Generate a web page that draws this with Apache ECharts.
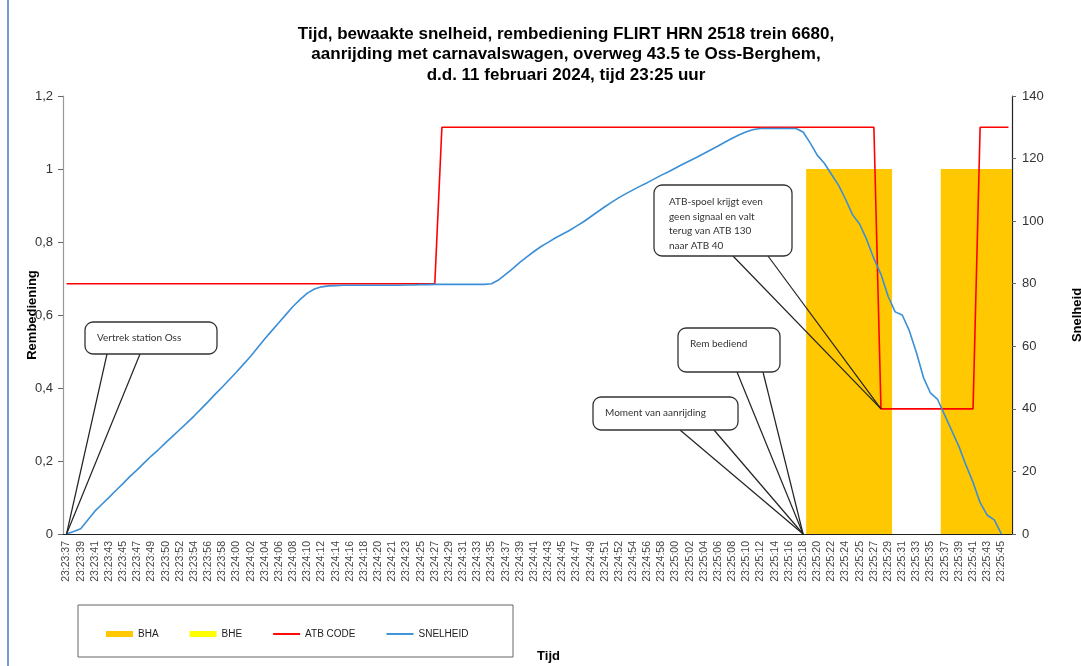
<!DOCTYPE html>
<html lang="nl">
<head>
<meta charset="UTF-8">
<title>Tijd, bewaakte snelheid, rembediening FLIRT HRN 2518</title>
<script src="https://cdn.jsdelivr.net/npm/echarts@6/dist/echarts.min.js"></script>
<style>
  html, body { margin: 0; padding: 0; background: #fff; }
  #chart { width: 1081px; height: 666px; }
</style>
</head>
<body>
<div id="chart"></div>
<script>
// labels op de tijd-as (alleen elke tweede meting heeft een label)
const tijdLabels = [
  '23:23:37','23:23:39','23:23:41','23:23:43','23:23:45','23:23:47','23:23:49','23:23:50','23:23:52','23:23:54',
  '23:23:56','23:23:58','23:24:00','23:24:02','23:24:04','23:24:06','23:24:08','23:24:10','23:24:12','23:24:14',
  '23:24:16','23:24:18','23:24:20','23:24:21','23:24:23','23:24:25','23:24:27','23:24:29','23:24:31','23:24:33',
  '23:24:35','23:24:37','23:24:39','23:24:41','23:24:43','23:24:45','23:24:47','23:24:49','23:24:51','23:24:52',
  '23:24:54','23:24:56','23:24:58','23:25:00','23:25:02','23:25:04','23:25:06','23:25:08','23:25:10','23:25:12',
  '23:25:14','23:25:16','23:25:18','23:25:20','23:25:22','23:25:24','23:25:25','23:25:27','23:25:29','23:25:31',
  '23:25:33','23:25:35','23:25:37','23:25:39','23:25:41','23:25:43','23:25:45'
];

// snelheid in km/h, per meting
const snelheid = [
  0, 0.8, 1.7, 4.5, 7.3, 9.5, 11.7, 14, 16.2, 18.5,
  20.6, 22.8, 25, 27, 29.2, 31.3, 33.4, 35.5, 37.7, 40,
  42.3, 44.7, 47, 49.4, 51.8, 54.3, 56.8, 59.6, 62.4, 65,
  67.6, 70.2, 72.8, 75, 77, 78.3, 79, 79.3, 79.4, 79.5,
  79.5, 79.5, 79.5, 79.5, 79.5, 79.5, 79.5, 79.5, 79.6, 79.6,
  79.7, 79.7, 79.8, 79.8, 79.8, 79.8, 79.8, 79.8, 79.8, 79.8,
  80, 81.2, 83, 84.8, 86.8, 88.6, 90.3, 91.9, 93.2, 94.6,
  95.8, 97, 98.4, 99.8, 101.4, 103, 104.6, 106.1, 107.5, 108.8,
  110, 111.2, 112.3, 113.5, 114.7, 115.8, 117, 118.2, 119.3, 120.4,
  121.6, 122.8, 124, 125.3, 126.5, 127.6, 128.6, 129.3, 129.6, 129.6,
  129.6, 129.6, 129.6, 129.6, 128.5, 125, 121.1, 118.5, 115, 111.5,
  107, 102, 99, 94, 88, 83, 76, 71, 70, 65,
  58, 50, 45, 43, 38, 33, 28, 22, 16.5, 10,
  6, 4.5, 0, null
];

// ATB code (km/h)
const atbCode = [
  80, 80, 80, 80, 80, 80, 80, 80, 80, 80,
  80, 80, 80, 80, 80, 80, 80, 80, 80, 80,
  80, 80, 80, 80, 80, 80, 80, 80, 80, 80,
  80, 80, 80, 80, 80, 80, 80, 80, 80, 80,
  80, 80, 80, 80, 80, 80, 80, 80, 80, 80,
  80, 80, 80, 130, 130, 130, 130, 130, 130, 130,
  130, 130, 130, 130, 130, 130, 130, 130, 130, 130,
  130, 130, 130, 130, 130, 130, 130, 130, 130, 130,
  130, 130, 130, 130, 130, 130, 130, 130, 130, 130,
  130, 130, 130, 130, 130, 130, 130, 130, 130, 130,
  130, 130, 130, 130, 130, 130, 130, 130, 130, 130,
  130, 130, 130, 130, 130, 40, 40, 40, 40, 40,
  40, 40, 40, 40, 40, 40, 40, 40, 40, 130,
  130, 130, 130, 130
];

// rembediening BHA (0/1)
const bha = [
  0, 0, 0, 0, 0, 0, 0, 0, 0, 0, 0, 0, 0, 0, 0, 0, 0, 0, 0, 0,
  0, 0, 0, 0, 0, 0, 0, 0, 0, 0, 0, 0, 0, 0, 0, 0, 0, 0, 0, 0,
  0, 0, 0, 0, 0, 0, 0, 0, 0, 0, 0, 0, 0, 0, 0, 0, 0, 0, 0, 0,
  0, 0, 0, 0, 0, 0, 0, 0, 0, 0, 0, 0, 0, 0, 0, 0, 0, 0, 0, 0,
  0, 0, 0, 0, 0, 0, 0, 0, 0, 0, 0, 0, 0, 0, 0, 0, 0, 0, 0, 0,
  0, 0, 0, 0, 0, 1, 1, 1, 1, 1,
  1, 1, 1, 1, 1, 1, 1, 0, 0, 0,
  0, 0, 0, 0, 1, 1, 1, 1, 1, 1,
  1, 1, 1, 1
];

// rembediening BHE: nergens actief
const bhe = [];

const categories = [];
tijdLabels.forEach(t => { categories.push(t, ''); });

const FONT = "'Liberation Sans', Arial, sans-serif";
const LINE_ICON = 'path://M0,0 L28,0 L28,2 L0,2 Z';
const chart = echarts.init(document.getElementById('chart'));

chart.setOption({
  animation: false,
  backgroundColor: '#fff',
  title: {
    text: 'Tijd, bewaakte snelheid, rembediening FLIRT HRN 2518 trein 6680,\naanrijding met carnavalswagen, overweg 43.5 te Oss-Berghem,\nd.d. 11 februari 2024, tijd 23:25 uur',
    left: 561,
    top: 19,
    textAlign: 'center',
    textStyle: { fontFamily: FONT, fontSize: 17, fontWeight: 'bold', color: '#000', lineHeight: 20.5 }
  },
  legend: {
    left: 106,
    top: 629,
    padding: 0,
    itemWidth: 27,
    itemHeight: 6,
    itemGap: 31,
    textStyle: { fontFamily: FONT, fontSize: 10, color: '#222' },
    data: [
      { name: 'BHA', icon: 'rect' },
      { name: 'BHE', icon: 'rect' },
      { name: 'ATB CODE', icon: LINE_ICON },
      { name: 'SNELHEID', icon: LINE_ICON }
    ]
  },
  grid: { left: 63, right: 69, top: 96, bottom: 132, outerBoundsMode: 'none', containLabel: false },
  xAxis: {
    type: 'category',
    data: categories,
    boundaryGap: true,
    name: 'Tijd',
    nameLocation: 'middle',
    nameGap: 116,
    nameMoveOverlap: false,
    nameTextStyle: { fontFamily: FONT, fontSize: 13, fontWeight: 'bold', color: '#000', padding: [0, 0, 0, 22] },
    axisLine: { lineStyle: { color: '#222', width: 1.2 } },
    axisTick: { interval: (idx) => idx % 3 === 2, length: 4, lineStyle: { color: '#333' } },
    axisLabel: { interval: 0, rotate: 90, fontFamily: FONT, fontSize: 10.5, color: '#444', margin: 7 }
  },
  yAxis: [
    {
      type: 'value', min: 0, max: 1.2, interval: 0.2,
      name: 'Rembediening', nameLocation: 'middle', nameGap: 24, nameRotate: 90,
      nameMoveOverlap: false,
      nameTextStyle: { fontFamily: FONT, fontSize: 13, fontWeight: 'bold', color: '#000' },
      splitLine: { show: false },
      axisLine: { show: true, lineStyle: { color: '#999', width: 1.2 } },
      axisTick: { show: true, length: 5, lineStyle: { color: '#666' } },
      axisLabel: {
        fontFamily: FONT, fontSize: 13, color: '#333', margin: 10,
        formatter: v => String(Math.round(v * 10) / 10).replace('.', ',')
      }
    },
    {
      type: 'value', min: 0, max: 140, interval: 20,
      name: 'Snelheid', nameLocation: 'middle', nameGap: 59, nameRotate: 90,
      nameMoveOverlap: false,
      nameTextStyle: { fontFamily: FONT, fontSize: 13, fontWeight: 'bold', color: '#000' },
      splitLine: { show: false },
      axisLine: { show: true, lineStyle: { color: '#222', width: 1.2 } },
      axisTick: { show: true, length: 4, lineStyle: { color: '#666' } },
      axisLabel: { fontFamily: FONT, fontSize: 13, color: '#333', margin: 10 }
    }
  ],
  series: [
    {
      // 0 = geen balk; iets breder dan een categorie zodat er geen naden zijn
      name: 'BHA', type: 'bar', yAxisIndex: 0, data: bha.map(v => (v ? v : null)),
      barWidth: 8, barGap: '-100%',
      itemStyle: { color: '#ffc800' }
    },
    {
      name: 'BHE', type: 'bar', yAxisIndex: 0, data: bhe,
      barWidth: 8, barGap: '-100%',
      itemStyle: { color: '#ffff00' }
    },
    {
      name: 'ATB CODE', type: 'line', yAxisIndex: 1, data: atbCode,
      symbol: 'none', lineStyle: { color: '#ff0000', width: 1.6 }, itemStyle: { color: '#ff0000' }
    },
    {
      name: 'SNELHEID', type: 'line', yAxisIndex: 1, data: snelheid,
      symbol: 'none', lineStyle: { color: '#3b8fd6', width: 1.6 }, itemStyle: { color: '#3b8fd6' }
    }
  ]
});

// tekstballonnen, met de punt op een datapunt
const callouts = [
  { lines: ['Vertrek station Oss'], box: [85, 322, 132, 32], base: [107, 140], at: [0, 0] },
  { lines: ['Moment van aanrijding'], box: [593, 397, 145, 33], base: [680, 714], at: [104, 0] },
  { lines: ['Rem bediend'], box: [678, 328, 102, 44], base: [737, 763], at: [104, 0] },
  { lines: ['ATB-spoel krijgt even', 'geen signaal en valt', 'terug van ATB 130', 'naar ATB 40'],
    box: [654, 185, 138, 71], base: [733, 768], at: [115, 40] }
];

const graphics = [];
callouts.forEach(c => {
  const tip = chart.convertToPixel({ xAxisIndex: 0, yAxisIndex: 1 }, c.at);
  const [bx, by, bw, bh] = c.box;
  c.base.forEach(x => {
    graphics.push({
      type: 'line', z: 100,
      shape: { x1: x, y1: by + bh, x2: tip[0], y2: tip[1] },
      style: { stroke: '#222', lineWidth: 1.2 }
    });
  });
  graphics.push({
    type: 'rect', z: 101,
    shape: { x: bx, y: by, width: bw, height: bh, r: 8 },
    style: { fill: '#fff', stroke: '#333', lineWidth: 1.3 }
  });
  const multi = c.lines.length > 1;
  graphics.push({
    type: 'text', z: 102,
    style: {
      text: c.lines.join('\n'),
      x: multi ? bx + 15 : bx + 12,
      y: multi ? by + 10 : by + 9,
      font: "10px Lato, 'Open Sans', sans-serif",
      lineHeight: 14.5,
      fill: '#333'
    }
  });
});

// legenda-kader en linker paginarand
graphics.push({
  type: 'rect', z: 0,
  shape: { x: 78, y: 605, width: 435, height: 52 },
  style: { fill: 'none', stroke: '#666', lineWidth: 1 }
});
graphics.push({
  type: 'line', z: 0,
  shape: { x1: 8, y1: 0, x2: 8, y2: 666 },
  style: { stroke: '#4a78c8', lineWidth: 1.5 }
});

chart.setOption({ graphic: graphics });
</script>
</body>
</html>
